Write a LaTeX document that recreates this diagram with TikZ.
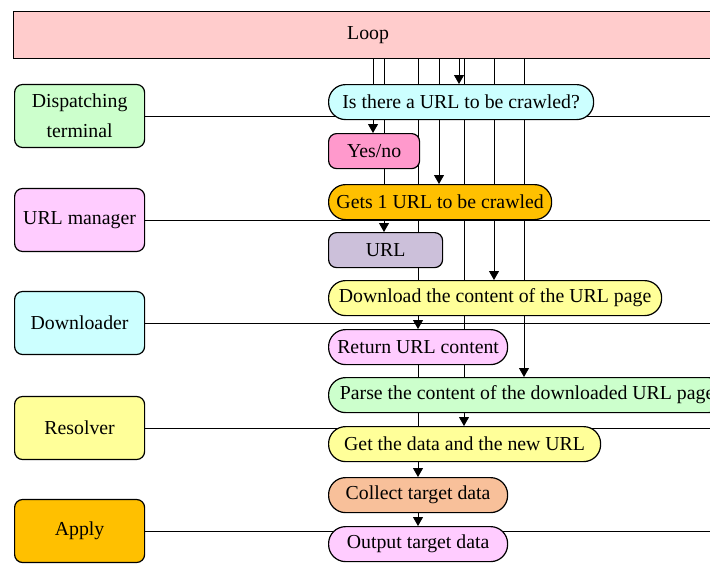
\documentclass[tikz,border=0pt]{standalone}
\usepackage{fontspec}
\setmainfont{Liberation Serif}
\usetikzlibrary{arrows.meta, backgrounds}
\definecolor{looppink}{HTML}{FFCCCC}
\definecolor{softgreen}{HTML}{CCFFCC}
\definecolor{softpink}{HTML}{FFCCFF}
\definecolor{softcyan}{HTML}{CCFFFF}
\definecolor{softyellow}{HTML}{FFFF99}
\definecolor{amber}{HTML}{FFC000}
\definecolor{rose}{HTML}{FF99CC}
\definecolor{lavender}{HTML}{CCC0DA}
\definecolor{peach}{HTML}{F8C09A}

\begin{document}
\begin{tikzpicture}[x=0.5pt, y=-0.5pt, line width=0.6pt,
    font=\fontsize{9.9}{11.5}\selectfont,
    role/.style={draw, rounded corners=4pt, minimum width=65pt, minimum height=31.5pt,
      inner sep=1pt, anchor=west, align=center, font=\fontsize{9.9}{15}\selectfont},
    pill/.style={draw, rounded corners=8.5pt, minimum height=17.5pt, inner sep=1pt, anchor=north west},
    tag/.style={draw, rounded corners=4pt, minimum height=17.5pt, inner sep=1pt, anchor=north west},
    flow/.style={-{Triangle[length=4.5pt,width=5pt]}}]
  \useasboundingbox (0,0) rectangle (710,563);
  \clip (0,0) rectangle (710,563);
  % loop bar across the top
  \node[draw, fill=looppink, minimum width=354.5pt, minimum height=23.5pt, anchor=north west] (loop) at (13,11) {Loop};
  % roles on the left
  \node[role, fill=softgreen] (disp) at (14,116) {Dispatching\\terminal};
  \node[role, fill=softpink] (urlm) at (14,220) {URL manager};
  \node[role, fill=softcyan] (dload) at (14,323) {Downloader};
  \node[role, fill=softyellow] (res) at (14,428) {Resolver};
  \node[role, fill=amber] (app) at (14,531) {Apply};
  % steps of the crawl
  \node[pill, fill=softcyan, minimum width=132.5pt] (ask) at (328,84) {Is there a URL to be crawled?};
  \node[tag, fill=rose, minimum width=45.5pt] (yn) at (328,133) {Yes/no};
  \node[pill, fill=amber, minimum width=111.5pt] (gets) at (328,184) {Gets 1 URL to be crawled};
  \node[tag, fill=lavender, minimum width=57pt] (url) at (328,232) {URL};
  \node[pill, fill=softyellow, minimum width=166.5pt] (dl) at (328,280) {Download the content of the URL page};
  \node[pill, fill=softpink, minimum width=89.5pt] (ret) at (328,329) {Return URL content};
  \node[pill, fill=softgreen, minimum width=198.5pt] (parse) at (328,377) {Parse the content of the downloaded URL page};
  \node[pill, fill=softyellow, minimum width=136pt] (getd) at (328,426) {Get the data and the new URL};
  \node[pill, fill=peach, minimum width=89.5pt] (col) at (328,477) {Collect target data};
  \node[pill, fill=softpink, minimum width=89.5pt] (out) at (328,526) {Output target data};
  \coordinate (rim) at (710,0);
  \begin{pgfonlayer}{background}
    % lanes
    \foreach \r in {disp, urlm, dload, res, app}
      \draw (\r.east) -- (\r.east -| rim);
    % from the loop down to each step
    \foreach \x/\s in {373/yn, 384/url, 418/ret, 439/gets, 459/ask, 464/getd, 494/dl, 524/parse}
      \draw[flow] (\x,0 |- loop.south) -- (\x,0 |- \s.north);
    \draw (418,0 |- ret.south) -- (418,0 |- getd.north);
    \draw[flow] (418,0 |- getd.south) -- (418,0 |- col.north);
    \draw[flow] (418,0 |- col.south) -- (418,0 |- out.north);
  \end{pgfonlayer}
\end{tikzpicture}
\end{document}
